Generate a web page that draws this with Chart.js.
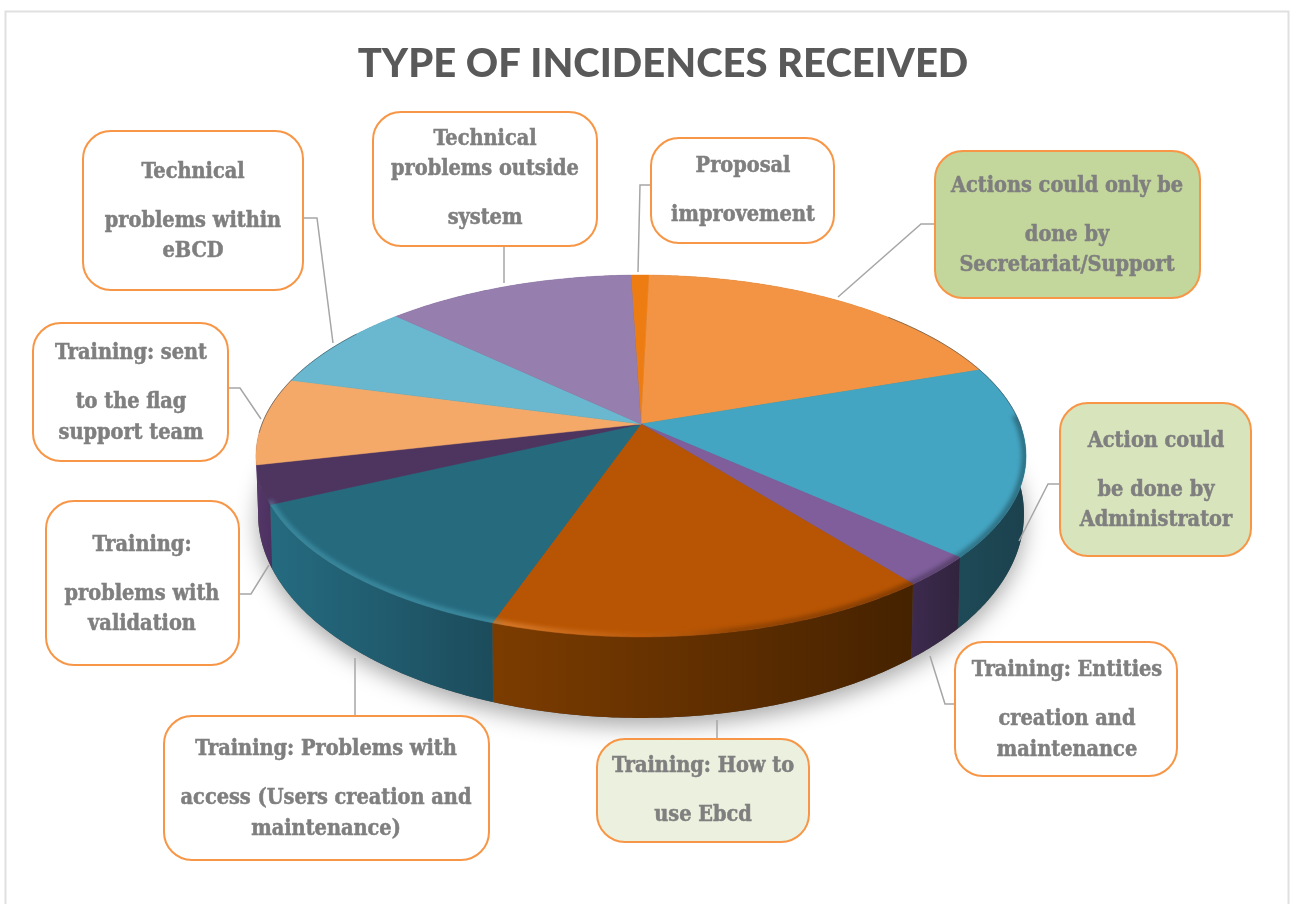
<!DOCTYPE html>
<html>
<head>
<meta charset="utf-8">
<title>Type of incidences received</title>
<script src="https://cdn.jsdelivr.net/npm/chart.js@4"></script>
<style>
  html, body { margin: 0; padding: 0; background: #fff; overflow: hidden; }
  #pie { display: block; }
</style>
</head>
<body>
<canvas id="pie" width="1290" height="904"></canvas>
<script>
// share of incidences per type (%), clockwise from the top
const categories = [
    'Proposal improvement',
    'Actions could only be done by Secretariat/Support',
    'Action could be done by Administrator',
    'Training: Entities creation and maintenance',
    'Training: How to use Ebcd',
    'Training: Problems with access (Users creation and maintenance)',
    'Training: problems with validation',
    'Training: sent to the flag support team',
    'Technical problems within eBCD',
    'Technical problems outside system'
];
const incidenceShare = [0.9, 19.3, 17.0, 2.7, 15.9, 12.7, 3.4, 7.8, 7.9, 12.4];
const calloutLines = [
    ['Proposal', 'improvement'],
    ['Actions could only be', 'done by', 'Secretariat/Support'],
    ['Action could', 'be done by', 'Administrator'],
    ['Training: Entities', 'creation and', 'maintenance'],
    ['Training: How to', 'use Ebcd'],
    ['Training: Problems with', 'access (Users creation and', 'maintenance)'],
    ['Training:', 'problems with', 'validation'],
    ['Training: sent', 'to the flag', 'support team'],
    ['Technical', 'problems within', 'eBCD'],
    ['Technical', 'problems outside', 'system']
];

// styles
const faceColors = ['#ed7d12', '#f29443', '#44a5c2', '#7f5e9b', '#b85504', '#266a7e', '#4e3560', '#f5a968', '#69b8cf', '#967eae'];
const wallLeft = ['#a85808', '#a8652c', '#1e4a57', '#3d2a4e', '#7c3c00', '#256b80', '#553768', '#553768', '#3d7f92', '#5f4d75'];
const wallRight = ['#a85808', '#a8652c', '#1b414d', '#31243e', '#452200', '#1c4c5c', '#4a3060', '#553768', '#3d7f92', '#5f4d75'];
const calloutFill = ['#fff', '#c3d69b', '#d8e4bc', '#fff', '#ebf1de', '#fff', '#fff', '#fff', '#fff', '#fff'];

// layout: box x, y, w, h / text centre x + middle y per line / leader polyline
const calloutBox = [
    [651, 138, 183, 105], [935, 151, 265, 147], [1060, 403, 191, 153], [955, 642, 222, 134], [597, 739, 212, 103],
    [164, 716, 325, 144], [46, 501, 193, 164], [33, 323, 195, 138], [83, 131, 220, 159], [373, 112, 224, 134]
];
const calloutTextX = [743, 1067, 1156, 1067, 703, 326, 142, 131, 193, 485];
const calloutTextY = [
    [166, 215], [186, 235, 265], [441, 490, 520], [670, 719, 750], [766, 815],
    [749, 798, 829], [545, 594, 624], [353, 402, 433], [172, 221, 251], [139, 169, 218]
];
const leaders = [
    [[651, 185], [640, 185], [638, 272]],
    [[935, 224], [921, 224], [838, 297]],
    [[1060, 484], [1048, 484], [1019, 541]],
    [[955, 704], [945, 704], [930, 656]],
    [[717, 739], [717, 720]],
    [[355, 716], [355, 658]],
    [[239, 594], [251, 594], [269, 565]],
    [[228, 388], [240, 388], [261, 419]],
    [[303, 218], [317, 218], [333, 343]],
    [[504, 246], [504, 283]]
];

// perspective of the disc: p = foreshortening, q = tilt, bottom rim is a second smaller disc
const tilt = { p: 0.1768, q: 0.4625 };
const bottomDisc = { scale: 0.9945, q: 0.524, dy: 54 };

const project = (a, cx, cy, R, q) => {
    const u = Math.cos(a), v = Math.sin(a), w = 1 - tilt.p * v;
    return [cx + R * u / w, cy + R * q * v / w];
};

const rimPoints = (a0, a1, cx, cy, R, q) => {
    const n = Math.max(2, Math.ceil((a1 - a0) / 0.008));
    const pts = [];
    for (let i = 0; i <= n; i++) pts.push(project(a0 + (a1 - a0) * i / n, cx, cy, R, q));
    return pts;
};

const perspectivePie = {
    id: 'perspectivePie',
    afterLayout(chart) {
        // the title sits right of the canvas centre in the original
        chart.titleBlock.left += 44;
    },
    beforeDatasetsDraw(chart) {
        const ctx = chart.ctx;
        const arcs = chart.getDatasetMeta(0).data;
        const cx = arcs[0].x, cy = arcs[0].y, R = arcs[0].outerRadius;
        const R2 = R * bottomDisc.scale, q2 = bottomDisc.q, cy2 = cy + bottomDisc.dy;

        // ground shadow
        ctx.save();
        ctx.shadowColor = 'rgba(0,0,0,0.34)';
        ctx.shadowBlur = 22;
        ctx.shadowOffsetY = 8;
        ctx.fillStyle = '#555';
        ctx.beginPath();
        rimPoints(0, Math.PI * 2, cx, cy2, R2, q2).forEach(p => ctx.lineTo(p[0], p[1]));
        ctx.closePath();
        ctx.fill();
        ctx.restore();

        // side walls
        arcs.forEach((arc, i) => {
            const top = rimPoints(arc.startAngle, arc.endAngle, cx, cy, R, tilt.q);
            const bot = rimPoints(arc.startAngle, arc.endAngle, cx, cy2, R2, q2).reverse();
            const xs = top.concat(bot).map(p => p[0]);
            const grad = ctx.createLinearGradient(Math.min(...xs), 0, Math.max(...xs), 0);
            grad.addColorStop(0, wallLeft[i]);
            grad.addColorStop(1, wallRight[i]);
            ctx.fillStyle = grad;
            ctx.beginPath();
            top.concat(bot).forEach(p => ctx.lineTo(p[0], p[1]));
            ctx.closePath();
            ctx.fill();
        });

        // top faces
        arcs.forEach((arc, i) => {
            ctx.fillStyle = faceColors[i];
            ctx.strokeStyle = faceColors[i];
            ctx.lineWidth = 0.5;
            ctx.beginPath();
            ctx.moveTo(cx, cy);
            rimPoints(arc.startAngle, arc.endAngle, cx, cy, R, tilt.q).forEach(p => ctx.lineTo(p[0], p[1]));
            ctx.closePath();
            ctx.fill();
            ctx.stroke();
        });

        // bevel on the front rim: highlight on the left, shadow on the right, kept inside the top face
        ctx.save();
        ctx.beginPath();
        rimPoints(0, Math.PI * 2, cx, cy, R, tilt.q).forEach(p => ctx.lineTo(p[0], p[1]));
        ctx.closePath();
        ctx.clip();
        ctx.filter = 'blur(2px)';
        ctx.lineWidth = 7;
        const bevel = ctx.createLinearGradient(cx - R, 0, cx + R, 0);
        bevel.addColorStop(0, 'rgba(110,215,240,0.28)');
        bevel.addColorStop(0.3, 'rgba(110,215,240,0.28)');
        bevel.addColorStop(0.32, 'rgba(255,170,90,0.42)');
        bevel.addColorStop(0.5, 'rgba(255,170,90,0.08)');
        bevel.addColorStop(0.62, 'rgba(0,0,0,0.2)');
        bevel.addColorStop(1, 'rgba(0,0,0,0.32)');
        ctx.strokeStyle = bevel;
        ctx.beginPath();
        rimPoints(-0.05, 2.72, cx, cy, R - 1, tilt.q).forEach(p => ctx.lineTo(p[0], p[1]));
        ctx.stroke();
        ctx.restore();

        // thin dark line along the back rim
        ctx.save();
        ctx.strokeStyle = 'rgba(70,80,85,0.6)';
        ctx.lineWidth = 1;
        ctx.beginPath();
        rimPoints(-0.75, 0.02, cx, cy, R, tilt.q).forEach(p => ctx.lineTo(p[0], p[1]));
        ctx.stroke();
        ctx.beginPath();
        rimPoints(Math.PI - 0.05, Math.PI + 0.6, cx, cy, R, tilt.q).forEach(p => ctx.lineTo(p[0], p[1]));
        ctx.stroke();
        ctx.restore();

        return false;
    },
    afterDraw(chart) {
        const ctx = chart.ctx;
        ctx.save();

        // outer chart frame
        ctx.strokeStyle = '#e0e0e0';
        ctx.lineWidth = 2;
        ctx.strokeRect(5.5, 11.5, 1283, 900);

        ctx.strokeStyle = '#a6a6a6';
        ctx.lineWidth = 1.5;
        leaders.forEach(line => {
            ctx.beginPath();
            line.forEach(p => ctx.lineTo(p[0], p[1]));
            ctx.stroke();
        });

        ctx.textAlign = 'center';
        ctx.textBaseline = 'middle';
        ctx.font = 'bold 21.5px "DejaVu Serif Condensed", "DejaVu Serif"';
        categories.forEach((_, i) => {
            const [x, y, w, h] = calloutBox[i];
            ctx.beginPath();
            ctx.roundRect(x, y, w, h, 28);
            ctx.fillStyle = calloutFill[i];
            ctx.fill();
            ctx.strokeStyle = '#f79646';
            ctx.lineWidth = 2;
            ctx.stroke();
            ctx.fillStyle = '#7f7f7f';
            ctx.strokeStyle = '#7f7f7f';
            ctx.lineWidth = 0.5;
            calloutLines[i].forEach((line, k) => {
                ctx.fillText(line, calloutTextX[i], calloutTextY[i][k]);
                ctx.strokeText(line, calloutTextX[i], calloutTextY[i][k]);
            });
        });
        ctx.restore();
    }
};

new Chart(document.getElementById('pie'), {
    type: 'pie',
    data: {
        labels: categories,
        datasets: [{ data: incidenceShare, backgroundColor: faceColors, borderWidth: 0 }]
    },
    options: {
        responsive: false,
        animation: false,
        events: [],
        radius: 379,
        rotation: -1.8,
        layout: { padding: { left: 0, right: 8, top: 0, bottom: 149 } },
        plugins: {
            legend: { display: false },
            tooltip: { enabled: false },
            title: {
                display: true,
                text: 'TYPE OF INCIDENCES RECEIVED',
                color: '#595959',
                font: { family: 'Lato', size: 40, weight: '900', lineHeight: 1.2 },
                padding: { top: 40, bottom: 5 }
            }
        }
    },
    plugins: [perspectivePie]
});
</script>
</body>
</html>
